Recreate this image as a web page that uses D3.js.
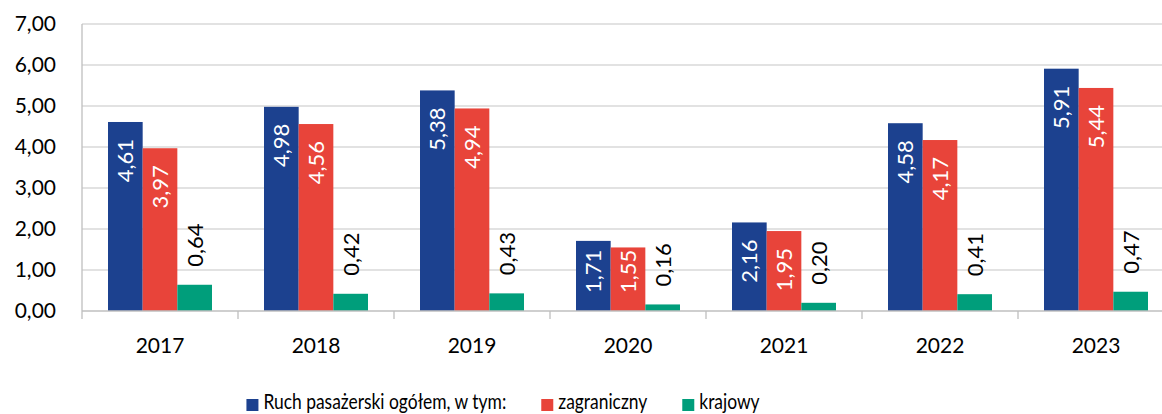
<!DOCTYPE html>
<html>
<head>
<meta charset="utf-8">
<script src="https://cdn.jsdelivr.net/npm/d3@7/dist/d3.min.js"></script>
<style>
  html, body { margin: 0; padding: 0; background: #fff; }
  svg { display: block; }
</style>
</head>
<body>
<svg id="chart" width="1162" height="414"></svg>
<script>
// Passenger traffic (mln) by year
const years = ["2017", "2018", "2019", "2020", "2021", "2022", "2023"];
const seriesNames = ["Ruch pasażerski ogółem, w tym:", "zagraniczny", "krajowy"];
const total = [4.61, 4.98, 5.38, 1.71, 2.16, 4.58, 5.91];
const foreign = [3.97, 4.56, 4.94, 1.55, 1.95, 4.17, 5.44];
const domestic = [0.64, 0.42, 0.43, 0.16, 0.20, 0.41, 0.47];
const yTicks = [0, 1, 2, 3, 4, 5, 6, 7];

const colors = ["#1c418f", "#e8443a", "#009e7b"];
const seriesValues = [total, foreign, domestic];

const W = 1162;
const plotLeft = 82, bandW = 156, plotTop = 24, plotBottom = 311;
const FONT = "Lato, 'Open Sans', sans-serif";

const svg = d3.select("#chart");
const fmt = v => d3.format(".2f")(v).replace(".", ",");

const x = d3.scaleBand().domain(years).range([plotLeft, plotLeft + bandW * years.length]).padding(0);
const xs = d3.scaleBand().domain(d3.range(3)).range([26, bandW - 26]).padding(0);
const y = d3.scaleLinear().domain([0, 7]).range([plotBottom, plotTop]);

// horizontal gridlines
svg.append("g").selectAll("line").data(yTicks.filter(t => t > 0)).join("line")
  .attr("x1", plotLeft).attr("x2", W)
  .attr("y1", d => y(d)).attr("y2", d => y(d))
  .attr("stroke", "#d9d9d9").attr("stroke-width", 1.3);

// y tick labels
svg.append("g").selectAll("text").data(yTicks).join("text")
  .attr("x", 56).attr("y", d => y(d)).attr("dy", "0.35em")
  .attr("text-anchor", "end")
  .attr("font-family", FONT).attr("font-size", 21)
  .attr("fill", "#000")
  .text(d => fmt(d));

// bars
const rows = years.map((yr, i) => seriesValues.map((vals, s) => ({ yr, s, v: vals[i] })));
const groups = svg.append("g").selectAll("g").data(rows).join("g")
  .attr("transform", (d, i) => `translate(${x(years[i])},0)`);

groups.selectAll("rect").data(d => d).join("rect")
  .attr("x", d => xs(d.s)).attr("width", xs.bandwidth())
  .attr("y", d => y(d.v)).attr("height", d => plotBottom - y(d.v))
  .attr("fill", d => colors[d.s]);

// value labels (rotated)
groups.selectAll("text").data(d => d).join("text")
  .attr("font-family", FONT).attr("font-size", 22)
  .attr("text-anchor", "middle").attr("dy", "0.36em")
  .attr("fill", d => d.s < 2 ? "#fff" : "#000")
  .text(d => fmt(d.v))
  .each(function (d) {
    const L = this.getComputedTextLength();
    const cx = xs(d.s) + xs.bandwidth() / 2;
    let cy;
    if (d.s < 2) {
      cy = Math.min(y(d.v) + 17 + L / 2, plotBottom - 18 - L / 2);
    } else {
      cy = y(d.v) - 18 - L / 2;
    }
    d3.select(this).attr("transform", `translate(${cx},${cy}) rotate(-90)`);
  });

// axis lines and category ticks
svg.append("line").attr("x1", plotLeft).attr("x2", W).attr("y1", plotBottom).attr("y2", plotBottom)
  .attr("stroke", "#bfbfbf").attr("stroke-width", 1.3);
svg.append("line").attr("x1", plotLeft).attr("x2", plotLeft).attr("y1", plotTop).attr("y2", plotBottom + 8)
  .attr("stroke", "#bfbfbf").attr("stroke-width", 1.3);
svg.append("g").selectAll("line").data(years.slice(1)).join("line")
  .attr("x1", d => x(d)).attr("x2", d => x(d))
  .attr("y1", plotBottom).attr("y2", plotBottom + 8)
  .attr("stroke", "#bfbfbf").attr("stroke-width", 1.3);

// year labels
svg.append("g").selectAll("text").data(years).join("text")
  .attr("x", d => x(d) + bandW / 2).attr("y", 353)
  .attr("text-anchor", "middle")
  .attr("font-family", FONT).attr("font-size", 21)
  .attr("fill", "#000")
  .text(d => d);

// legend (text slightly condensed horizontally)
const squeeze = 0.83;
const legend = svg.append("g");
const items = legend.selectAll("g").data(seriesNames).join("g");
items.append("rect").attr("width", 12).attr("height", 12).attr("y", -10)
  .attr("fill", (d, i) => colors[i]);
items.append("text")
  .attr("transform", `translate(17,0) scale(${squeeze},1)`)
  .attr("font-family", FONT).attr("font-size", 21)
  .attr("fill", "#000")
  .text(d => d);
let cursor = 0;
const gap = 35;
items.each(function () {
  const w = 17 + squeeze * d3.select(this).select("text").node().getComputedTextLength();
  d3.select(this).attr("transform", `translate(${cursor},0)`);
  cursor += w + gap;
});
const totalW = cursor - gap;
legend.attr("transform", `translate(${503 - totalW / 2},409)`);
</script>
</body>
</html>
